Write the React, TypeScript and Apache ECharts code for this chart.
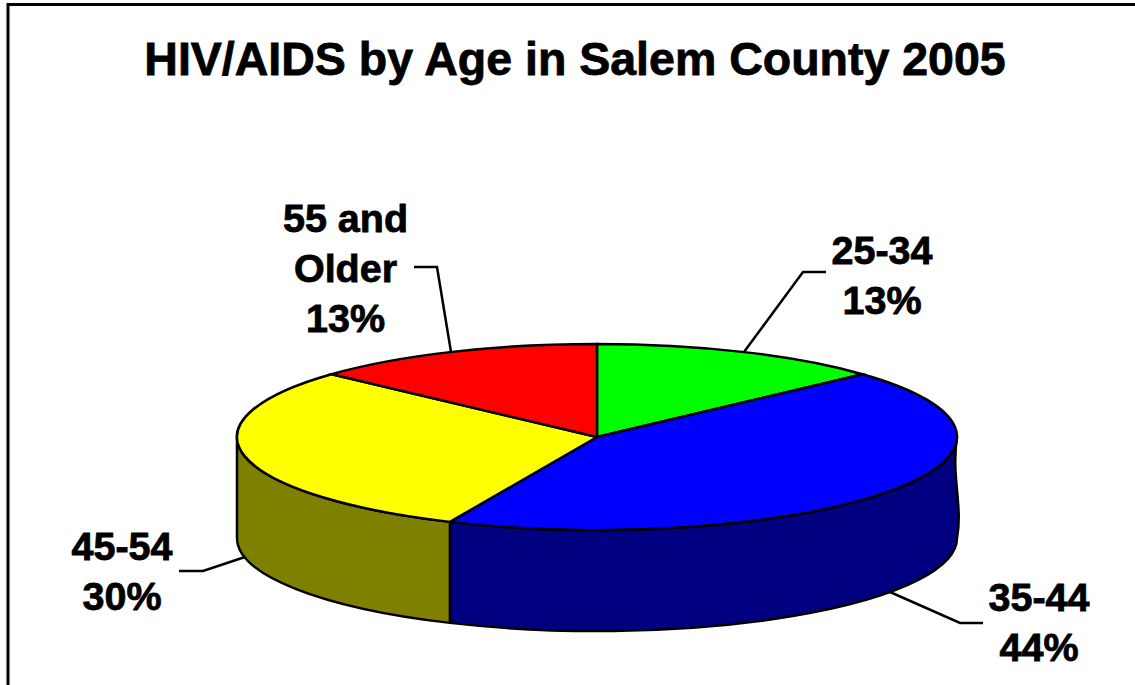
import React, { useEffect, useRef } from "react";
import * as echarts from "echarts";

const titleText = "HIV/AIDS by Age in Salem County 2005";
const categories = ["25-34", "35-44", "45-54", "55 and\nOlder"];
const shares = [13.2, 43.5, 30.1, 13.2];
const percentLabels = ["13%", "44%", "30%", "13%"];
const topColors = ["#00ff00", "#0000ff", "#ffff00", "#ff0000"];
const sideColors = ["#008000", "#000080", "#808000", "#800000"];

const FONT = '"Liberation Sans", Arial, sans-serif';
const CX = 597;
const CY = 437;
const RX = 360;
const RY = 93;
const DEPTH = 101;
const EDGE = 2.5;

const total = shares.reduce((a, b) => a + b, 0);
const pt = (deg: number, dy = 0) => {
  const r = (deg * Math.PI) / 180;
  return [CX + RX * Math.sin(r), CY + dy - RY * Math.cos(r)];
};
const arc = (to: number[], sweep: number) =>
  `A ${RX} ${RY} 0 0 ${sweep} ${to[0]} ${to[1]}`;

function sliceAngles(i: number) {
  const before = shares.slice(0, i).reduce((a, b) => a + b, 0);
  return [(before / total) * 360, ((before + shares[i]) / total) * 360];
}

function renderSlice(_: any, api: any) {
  const i = api.value(0) as number;
  const [a0, a1] = sliceAngles(i);
  const p0 = pt(a0);
  const p1 = pt(a1);
  const large = a1 - a0 > 180 ? 1 : 0;
  const children: any[] = [];
  const wallFrom = Math.max(a0, 90);
  const wallTo = Math.min(a1, 270);
  if (wallTo > wallFrom) {
    const tStart = pt(wallFrom);
    const tEnd = pt(wallTo);
    const bEnd = pt(wallTo, DEPTH);
    const bStart = pt(wallFrom, DEPTH);
    let d = `M ${tStart[0]} ${tStart[1]} ${arc(tEnd, 1)} L ${bEnd[0]} ${bEnd[1]} ${arc(bStart, 0)}`;
    if (wallFrom === 90) {
      d += ` C ${bStart[0] + 6} ${bStart[1] - 32} ${tStart[0] - 6} ${tStart[1] + 40} ${tStart[0]} ${tStart[1]}`;
    }
    d += " Z";
    children.push({
      type: "path",
      shape: { pathData: d },
      style: { fill: sideColors[i], stroke: "#000", lineWidth: EDGE, lineJoin: "round" },
    });
  }
  const top = `M ${CX} ${CY} L ${p0[0]} ${p0[1]} A ${RX} ${RY} 0 ${large} 1 ${p1[0]} ${p1[1]} Z`;
  children.push({
    type: "path",
    shape: { pathData: top },
    style: { fill: topColors[i], stroke: "#000", lineWidth: EDGE, lineJoin: "miter" },
  });
  return { type: "group", children };
}

const leaderPoints = [
  [[744, 352], [803, 272], [826, 272]],
  [[890, 592], [960, 623], [983, 623]],
  [[245, 557], [203, 571], [179, 571]],
  [[451, 352], [437, 267], [414, 267]],
];
const labelCenters = [
  [882, 275],
  [1039, 622],
  [122, 571],
  [345.5, 268],
];

export default function App() {
  const ref = useRef<HTMLDivElement>(null);
  useEffect(() => {
    const chart = echarts.init(ref.current!, null, { renderer: "svg" });
    chart.setOption({
      animation: false,
      backgroundColor: "#ffffff",
      title: {
        text: titleText,
        left: 570,
        top: 30,
        textAlign: "center",
        textStyle: {
          fontFamily: FONT,
          fontWeight: "bold",
          fontSize: 46.5,
          color: "#000",
          textBorderColor: "#000",
          textBorderWidth: 0.8,
        },
      },
      series: [
        {
          type: "custom",
          coordinateSystem: "none",
          renderItem: renderSlice,
          silent: true,
          data: shares.map((v, i) => [i, v]),
          encode: { itemName: 0 },
          clip: false,
        },
      ],
      graphic: [
        {
          type: "rect",
          shape: { x: 8, y: 4.5, width: 1200, height: 800 },
          style: { fill: "none", stroke: "#000", lineWidth: 3 },
          silent: true,
        },
        ...leaderPoints.map((points) => ({
          type: "polyline",
          shape: { points },
          style: { stroke: "#000", lineWidth: EDGE, fill: "none" },
          silent: true,
        })),
        ...categories.map((c, i) => ({
          type: "text",
          x: labelCenters[i][0],
          y: labelCenters[i][1],
          silent: true,
          style: {
            text: `${c}\n${percentLabels[i]}`,
            fontFamily: FONT,
            fontWeight: "bold",
            fontSize: 39.5,
            lineHeight: 50,
            fill: "#000",
            stroke: "#000",
            lineWidth: 0.8,
            align: "center",
            verticalAlign: "middle",
          },
        })),
      ],
    });
    return () => chart.dispose();
  }, []);
  return (
    <div
      ref={ref}
      style={{ position: "fixed", left: 0, top: 0, width: 1135, height: 685 }}
    />
  );
}
